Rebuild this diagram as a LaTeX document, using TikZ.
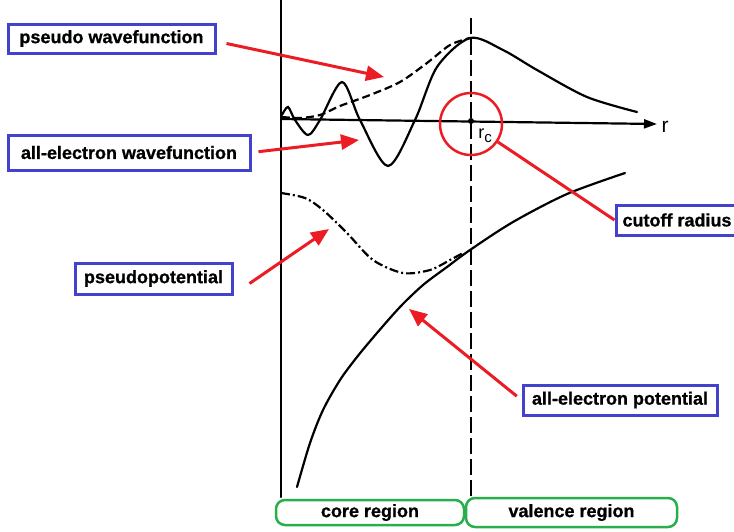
\documentclass[tikz,border=0pt]{standalone}
\usepackage{fontspec}
\setmainfont{Liberation Sans}[BoldFeatures={FakeBold=0.8}]
\usetikzlibrary{arrows.meta}

\definecolor{boxblue}{RGB}{66,66,204}
\definecolor{pointred}{RGB}{236,28,36}
\definecolor{regiongreen}{RGB}{40,175,75}

\tikzset{
    label box/.style={draw=boxblue, line width=3pt, fill=white, inner sep=0pt,
        font=\fontsize{18}{20}\selectfont\bfseries},
    region box/.style={draw=regiongreen, line width=2.5pt, rounded corners=9pt, inner sep=0pt,
        font=\fontsize{18}{20}\selectfont\bfseries},
    pointer/.style={draw=pointred, line width=3pt, -{Triangle[length=18pt,width=15pt]}},
    curve/.style={line width=2.2pt, black, line cap=round},
}

\begin{document}
\begin{tikzpicture}[x=1pt, y=-1pt]
    \useasboundingbox (0,0) rectangle (734,531);
    \clip (0,0) rectangle (734,531);

    % axes and core boundary
    \coordinate (origin) at (281,119);
    \coordinate (axisend) at (657,124);
    \draw[curve] (281,0) -- (281,497);
    \draw[curve, line cap=butt, dash pattern=on 16pt off 5pt] (471,18) -- (471,497);
    \draw[curve, -{Triangle[length=13pt,width=9pt]}] (origin) -- (axisend);
    \node[font=\fontsize{21}{22}\selectfont] (rlabel) at (665,127) {r};
    \fill (471,121) circle[radius=3pt];
    \node[font=\fontsize{18}{20}\selectfont] (rclabel) at (485,136) {r\raisebox{-0.45ex}{\fontsize{15}{16}\selectfont c}};

    % wavefunctions
    \draw[curve] plot[smooth] coordinates {(282,115) (288,107) (295,120) (308,135) (320,120)
        (342,82) (360,120) (388,166) (415,120) (437,67) (470,38) (503,50) (537,70) (587,97) (637,112)};
    \draw[curve, line cap=butt, dash pattern=on 8pt off 4pt] plot[smooth] coordinates {(282,117) (300,118)
        (320,115) (340,106) (370,95) (400,82) (427,63) (450,45) (470,38)};

    % potentials
    \draw[curve, line cap=butt, dash pattern=on 9pt off 3pt on 2pt off 3pt] plot[smooth] coordinates {(281,193)
        (305,198) (323,210) (347,233) (373,260) (403,273) (430,270) (450,260) (463,253)};
    \draw[curve] plot[smooth] coordinates {(297,487) (310,443) (323,410) (340,380) (357,357) (377,333)
        (400,307) (423,285) (447,267) (470,250) (513,222) (567,194) (625,173)};

    % labels
    \node[label box, minimum width=207pt, minimum height=29pt] (pswf) at (111.5,38.5) {pseudo wavefunction};
    \node[label box, minimum width=242pt, minimum height=35pt] (aewf) at (129,152.5) {all-electron wavefunction};
    \node[label box, minimum width=122pt, minimum height=30pt] (cutoff) at (677,220) {cutoff radius};
    \node[label box, minimum width=157pt, minimum height=31pt] (pspot) at (153.5,278.5) {pseudopotential};
    \node[label box, minimum width=194pt, minimum height=30pt] (aepot) at (620,400) {all-electron potential};

    \node[region box, minimum width=188pt, minimum height=25pt] (core) at (370,512.5) {core region};
    \node[region box, minimum width=211pt, minimum height=29pt] (valence) at (571.5,512.5) {valence region};

    % pointers
    \coordinate (pswftip) at (384,77);
    \coordinate (aewftip) at (359,140);
    \coordinate (psptip) at (329,229);
    \coordinate (aeptip) at (409,309);
    \node[circle, draw=pointred, line width=2.5pt, minimum size=62pt, inner sep=0pt] (cutcirc) at (471,124) {};

    \draw[pointer] ([xshift=10pt,yshift=-5pt]pswf.east) -- (pswftip);
    \draw[pointer, shorten <=7pt] (aewf.east) -- (aewftip);
    \draw[pointer] ([xshift=16pt,yshift=-5pt]pspot.east) -- (psptip);
    \draw[pointer, shorten <=6pt] (aepot.west) -- (aeptip);
    \draw[draw=pointred, line width=3pt] (cutcirc) -- (cutoff.west);
\end{tikzpicture}
\end{document}
